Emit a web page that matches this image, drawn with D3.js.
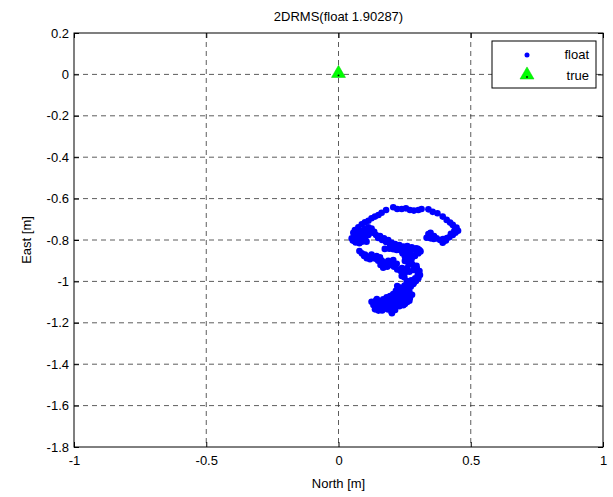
<!DOCTYPE html>
<html>
<head>
<meta charset="utf-8">
<script src="https://cdn.jsdelivr.net/npm/d3@7"></script>
<style>
  body { margin: 0; background: #fff; }
  text { font-family: "Liberation Sans", Arial, sans-serif; }
</style>
</head>
<body>
<div id="chart"></div>
<script>
// float solution track (north, east in metres)
var floatNorth = [
  0.056, 0.062, 0.075, 0.088, 0.100, 0.113, 0.125, 0.138, 0.151, 0.163, 0.180,
  0.207, 0.222, 0.239, 0.255, 0.270, 0.285, 0.302, 0.314, 0.340, 0.356, 0.374,
  0.394, 0.409, 0.422, 0.432, 0.444, 0.452, 0.442, 0.432, 0.419, 0.406, 0.394,
  0.384, 0.371, 0.361, 0.348, 0.333, 0.340, 0.348,
  0.050, 0.054, 0.066, 0.075, 0.081, 0.091, 0.100, 0.113, 0.119, 0.113, 0.100,
  0.106, 0.088, 0.079,
  0.129, 0.142, 0.157, 0.172, 0.188, 0.201, 0.214, 0.230, 0.245, 0.260, 0.277,
  0.293, 0.306, 0.302, 0.289, 0.277, 0.264, 0.251, 0.242, 0.232, 0.220, 0.207,
  0.192, 0.175, 0.258, 0.270, 0.251,
  0.079, 0.088, 0.097, 0.107, 0.119, 0.132, 0.144, 0.157, 0.164, 0.159, 0.169,
  0.184, 0.197, 0.210, 0.222, 0.235, 0.251, 0.268, 0.283, 0.296, 0.306, 0.308,
  0.302, 0.293, 0.283, 0.273, 0.264, 0.258, 0.249, 0.239, 0.188, 0.207,
  0.251, 0.242, 0.230, 0.222, 0.217, 0.207, 0.195, 0.182, 0.169, 0.157, 0.142,
  0.125, 0.132, 0.138, 0.151, 0.163, 0.176, 0.188, 0.197, 0.202, 0.214, 0.222,
  0.235, 0.251, 0.268, 0.264, 0.247, 0.230, 0.214, 0.201, 0.184, 0.169, 0.154,
  0.144, 0.222, 0.239,
  0.160, 0.175, 0.190, 0.205, 0.215, 0.228, 0.240, 0.255, 0.150, 0.165, 0.180,
  0.195, 0.210, 0.230, 0.245, 0.260, 0.270, 0.278, 0.268, 0.255, 0.245, 0.235,
  0.250, 0.262, 0.275, 0.285, 0.135, 0.145, 0.200, 0.185,
  0.285, 0.295, 0.310, 0.300, 0.280, 0.268, 0.258, 0.275, 0.265, 0.280, 0.295,
  0.300, 0.290, 0.100, 0.115, 0.125, 0.140, 0.150, 0.175, 0.190, 0.205, 0.220,
  0.240, 0.260,
  0.060, 0.070, 0.085, 0.095, 0.108, 0.125, 0.135, 0.095, 0.065,
  0.395, 0.410, 0.425, 0.438, 0.446, 0.360, 0.345,
  0.150, 0.165, 0.180, 0.195, 0.210, 0.225, 0.240
];
var floatEast = [
  -0.765, -0.752, -0.739, -0.724, -0.715, -0.707, -0.695, -0.687, -0.679, -0.668, -0.655,
  -0.642, -0.650, -0.650, -0.647, -0.655, -0.658, -0.655, -0.650, -0.652, -0.664, -0.671,
  -0.687, -0.703, -0.716, -0.727, -0.744, -0.755, -0.765, -0.776, -0.787, -0.803, -0.813,
  -0.800, -0.792, -0.781, -0.792, -0.789, -0.771, -0.765,
  -0.792, -0.803, -0.797, -0.781, -0.765, -0.755, -0.747, -0.739, -0.755, -0.776, -0.792,
  -0.808, -0.808, -0.816,
  -0.765, -0.776, -0.781, -0.792, -0.800, -0.813, -0.819, -0.824, -0.832, -0.829, -0.835,
  -0.840, -0.848, -0.864, -0.877, -0.888, -0.893, -0.880, -0.864, -0.848, -0.848, -0.845,
  -0.842, -0.843, -0.856, -0.861, -0.901,
  -0.853, -0.864, -0.877, -0.888, -0.893, -0.883, -0.877, -0.883, -0.900, -0.921, -0.934,
  -0.929, -0.921, -0.929, -0.942, -0.950, -0.958, -0.953, -0.945, -0.937, -0.950, -0.969,
  -0.985, -0.998, -1.013, -1.026, -1.017, -1.001, -0.980, -0.974, -0.900, -0.897,
  -1.038, -1.054, -1.042, -1.022, -1.045, -1.061, -1.071, -1.077, -1.087, -1.098, -1.093,
  -1.098, -1.114, -1.135, -1.141, -1.130, -1.119, -1.114, -1.135, -1.154, -1.138, -1.114,
  -1.103, -1.109, -1.093, -1.074, -1.077, -1.087, -1.093, -1.106, -1.098, -1.109, -1.119,
  -1.122, -1.066, -1.061,
  -1.100, -1.090, -1.085, -1.080, -1.100, -1.105, -1.090, -1.085, -1.130, -1.140, -1.125,
  -1.120, -1.125, -1.120, -1.115, -1.100, -1.080, -1.065, -1.050, -1.055, -1.070, -1.030,
  -1.020, -1.000, -0.995, -1.005, -1.105, -1.085, -1.145, -1.135,
  -0.875, -0.860, -0.855, -0.842, -0.845, -0.870, -0.885, -0.905, -0.915, -0.920, -0.925,
  -0.965, -0.985, -0.870, -0.880, -0.870, -0.890, -0.900, -0.910, -0.915, -0.905, -0.915,
  -0.935, -0.935,
  -0.785, -0.770, -0.790, -0.775, -0.765, -0.745, -0.760, -0.805, -0.812,
  -0.795, -0.790, -0.770, -0.755, -0.740, -0.795, -0.780,
  -0.790, -0.800, -0.810, -0.822, -0.830, -0.835, -0.840
];
var trueNorth = [0];
var trueEast = [0];

var xTicks = [-1, -0.5, 0, 0.5, 1];
var yTicks = [0.2, 0, -0.2, -0.4, -0.6, -0.8, -1, -1.2, -1.4, -1.6, -1.8];
var legendLabels = ["float", "true"];
var titleText = "2DRMS(float 1.90287)";

var width = 613, height = 497;
var margin = {left: 74, right: 10, top: 33, bottom: 50};
var pw = width - margin.left - margin.right;
var ph = height - margin.top - margin.bottom;

var svg = d3.select("#chart").append("svg")
  .attr("width", width)
  .attr("height", height);

var x = d3.scaleLinear().domain([-1, 1]).range([0, pw]);
var y = d3.scaleLinear().domain([-1.8, 0.2]).range([ph, 0]);

var g = svg.append("g").attr("transform", "translate(" + margin.left + "," + margin.top + ")");

// grid
g.selectAll(".vgrid").data(xTicks.slice(1, -1)).enter().append("line")
  .attr("x1", function(d){ return x(d); }).attr("x2", function(d){ return x(d); })
  .attr("y1", 0).attr("y2", ph)
  .attr("stroke", "#333").attr("stroke-width", 0.8).attr("stroke-dasharray", "5,4");
g.selectAll(".hgrid").data(yTicks.slice(1, -1)).enter().append("line")
  .attr("y1", function(d){ return y(d); }).attr("y2", function(d){ return y(d); })
  .attr("x1", 0).attr("x2", pw)
  .attr("stroke", "#333").attr("stroke-width", 0.8).attr("stroke-dasharray", "5,4");

// axes (ticks inward, box), plain hyphen minus like matlab
var fmt = function(d){ return String(d); };
g.append("g").attr("transform", "translate(0," + ph + ")")
  .call(d3.axisBottom(x).tickValues(xTicks).tickSize(-5).tickPadding(9).tickFormat(fmt));
g.append("g")
  .call(d3.axisLeft(y).tickValues(yTicks).tickSize(-5).tickPadding(5).tickFormat(fmt));
g.append("g").call(d3.axisTop(x).tickValues(xTicks).tickSize(-5).tickFormat(""));
g.append("g").attr("transform", "translate(" + pw + ",0)")
  .call(d3.axisRight(y).tickValues(yTicks).tickSize(-5).tickFormat(""));
g.selectAll(".domain").remove();
g.selectAll(".tick line").attr("stroke", "#000");
g.selectAll(".tick text").attr("font-size", 13).attr("fill", "#000")
  .style("font-family", "'Liberation Sans', Arial, sans-serif");

g.append("rect").attr("x", 0).attr("y", 0).attr("width", pw).attr("height", ph)
  .attr("fill", "none").attr("stroke", "#000").attr("stroke-width", 1);

// float points
var pts = floatNorth.map(function(n, i){ return [n, floatEast[i]]; });
g.selectAll(".fpt").data(pts).enter().append("circle")
  .attr("cx", function(d){ return x(d[0]); })
  .attr("cy", function(d){ return y(d[1]); })
  .attr("r", 3.3)
  .attr("fill", "#0000ff");

// true point
var tri = d3.symbol().type(d3.symbolTriangle).size(85);
var tpts = trueNorth.map(function(n, i){ return [n, trueEast[i]]; });
tpts.forEach(function(d){
  g.append("path").attr("d", tri)
    .attr("transform", "translate(" + x(d[0]) + "," + (y(d[1]) - 1) + ")")
    .attr("fill", "#00ff00").attr("stroke", "#00cc00").attr("stroke-width", 0.5);
  g.append("circle").attr("cx", x(d[0])).attr("cy", y(d[1]) + 1).attr("r", 0.9).attr("fill", "#000");
});

// legend
var lg = g.append("g").attr("transform", "translate(" + (pw - 111) + ",8)");
lg.append("rect").attr("width", 104).attr("height", 47)
  .attr("fill", "#fff").attr("stroke", "#000").attr("stroke-width", 1);
lg.append("circle").attr("cx", 35).attr("cy", 14).attr("r", 2.5).attr("fill", "#0000ff");
lg.append("path").attr("d", tri).attr("transform", "translate(35,34)")
  .attr("fill", "#00ff00").attr("stroke", "#00cc00").attr("stroke-width", 0.5);
lg.append("circle").attr("cx", 35).attr("cy", 36).attr("r", 0.9).attr("fill", "#000");
lg.selectAll(".lt").data(legendLabels).enter().append("text")
  .attr("x", 97).attr("y", function(d, i){ return 18 + i * 21; })
  .attr("text-anchor", "end").attr("font-size", 13).text(function(d){ return d; });

// title and labels
svg.append("text").attr("x", margin.left + pw / 2).attr("y", 21)
  .attr("text-anchor", "middle").attr("font-size", 13).text(titleText);
svg.append("text").attr("x", margin.left + pw / 2).attr("y", 488)
  .attr("text-anchor", "middle").attr("font-size", 13).text("North [m]");
svg.append("text").attr("transform", "translate(31," + (margin.top + ph / 2) + ") rotate(-90)")
  .attr("text-anchor", "middle").attr("font-size", 13).text("East [m]");
</script>
</body>
</html>
